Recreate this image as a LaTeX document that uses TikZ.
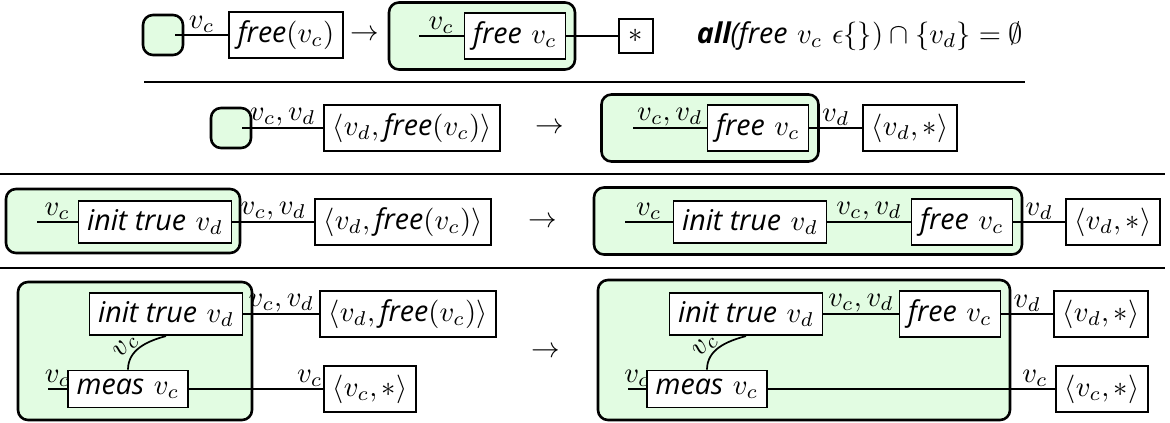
\documentclass[tikz,border=0pt]{standalone}
\usepackage{fontspec}
\newfontfamily\opensans{Open Sans}
\newcommand{\kw}[1]{\mbox{\opensans\itshape #1}}
\newcommand{\kwb}[1]{\mbox{\opensans\bfseries\itshape #1}}
\definecolor{grpgreen}{RGB}{226,252,226}
\newdimen\unitpx
\unitpx=0.35pt

\begin{document}
\begin{tikzpicture}[x=\unitpx, y=\unitpx,
  box/.style={rectangle, draw, semithick, fill=white, inner sep=3pt},
  grp/.style={rectangle, draw, line width=0.9pt, rounded corners=3.5pt, fill=grpgreen},
  wire/.style={semithick},
  lbl/.style={above, inner sep=0.5pt}]
  \useasboundingbox (0, 0) rectangle (1170, 423);

  \node (u1) [grp, minimum size=40\unitpx] at (163, 388) {};
  \coordinate (u1out) at (175, 388);
  \node (f1) [box] at (286, 388) {\kw{free}$(v_c)$};
  \node (a1) [] at (365, 388) {$\rightarrow$};
  \node (g1) [grp, minimum width=186\unitpx, minimum height=67\unitpx] at (482, 387) {};
  \coordinate (g1in) at (419, 387);
  \node (f1r) [box] at (515, 387) {\kw{free} $v_c$};
  \node (s1) [box, minimum size=34\unitpx] at (636, 387) {$*$};
  \node (c1) [] at (860, 387) {\kwb{all}\kw{(free} $v_c\ \epsilon\{\})\cap\{v_d\}=\emptyset$};
  \draw[wire] (u1out) -- node[lbl, midway] {$v_c$} (f1.west);
  \draw[wire] (g1in) -- node[lbl, midway] {$v_c$} (f1r.west);
  \draw[wire] (f1r.east) -- (s1.west);
  \draw[thin] (144, 341) -- (1025, 341);

  \node (u2) [grp, minimum size=40\unitpx] at (231, 295) {};
  \coordinate (u2out) at (242, 295);
  \node (p2) [box] at (412, 295) {$\langle v_d,\kw{free}(v_c)\rangle$};
  \node (a2) [] at (550, 295) {$\rightarrow$};
  \node (g2) [grp, minimum width=217\unitpx, minimum height=67\unitpx] at (710, 295) {};
  \coordinate (g2in) at (633, 295);
  \node (f2) [box] at (758, 295) {\kw{free} $v_c$};
  \node (p2r) [box] at (910, 295) {$\langle v_d,*\rangle$};
  \draw[wire] (u2out) -- node[lbl, midway] {$v_c,v_d$} (p2.west);
  \draw[wire] (g2in) -- node[lbl, midway] {$v_c,v_d$} (f2.west);
  \draw[wire] (f2.east) -- node[lbl, midway] {$v_d$} (p2r.west);
  \draw[thin] (0, 249) -- (1165, 249);

  \node (g3) [grp, minimum width=234\unitpx, minimum height=64\unitpx] at (123, 202) {};
  \coordinate (g3in) at (37, 201);
  \node (i3) [box] at (155, 201) {\kw{init true} $v_d$};
  \node (p3) [box] at (403, 201) {$\langle v_d,\kw{free}(v_c)\rangle$};
  \node (a3) [] at (543, 201) {$\rightarrow$};
  \node (g3r) [grp, minimum width=428\unitpx, minimum height=67\unitpx] at (808, 202) {};
  \coordinate (g3rin) at (625, 201);
  \node (i3r) [box] at (750, 201) {\kw{init true} $v_d$};
  \node (f3r) [box] at (962, 201) {\kw{free} $v_c$};
  \node (p3r) [box] at (1113, 201) {$\langle v_d,*\rangle$};
  \draw[wire] (g3in) -- node[lbl, midway] {$v_c$} (i3.west);
  \draw[wire] (i3.east) -- node[lbl, midway] {$v_c,v_d$} (p3.west);
  \draw[wire] (g3rin) -- node[lbl, midway] {$v_c$} (i3r.west);
  \draw[wire] (i3r.east) -- node[lbl, midway] {$v_c,v_d$} (f3r.west);
  \draw[wire] (f3r.east) -- node[lbl, midway] {$v_d$} (p3r.west);
  \draw[thin] (0, 155) -- (1165, 155);

  \node (g4) [grp, minimum width=234\unitpx, minimum height=138\unitpx] at (135, 72) {};
  \node (i4) [box] at (166, 109) {\kw{init true} $v_d$};
  \node (m4) [box] at (128, 34) {\kw{meas} $v_c$};
  \coordinate (m4in) at (48, 34);
  \node (p4) [box] at (408, 109) {$\langle v_d,\kw{free}(v_c)\rangle$};
  \node (q4) [box] at (370, 34) {$\langle v_c,*\rangle$};
  \node (a4) [] at (546, 71) {$\rightarrow$};
  \draw[wire] (m4in) -- node[lbl, midway] {$v_c$} (m4.west);
  \draw[wire] (m4.north) to[out=90, in=195] node[lbl, sloped, pos=0.35] {$v_c$} (i4.south);
  \draw[wire] (i4.east) -- node[lbl, midway] {$v_c,v_d$} (p4.west);
  \draw[wire] (m4.east) -- node[lbl, pos=0.9] {$v_c$} (q4.west);

  \node (g4r) [grp, minimum width=412\unitpx, minimum height=140\unitpx] at (804, 73) {};
  \node (i4r) [box] at (746, 109) {\kw{init true} $v_d$};
  \node (f4r) [box] at (950, 109) {\kw{free} $v_c$};
  \node (p4r) [box] at (1101, 109) {$\langle v_d,*\rangle$};
  \node (m4r) [box] at (707, 34) {\kw{meas} $v_c$};
  \coordinate (m4rin) at (628, 34);
  \node (q4r) [box] at (1102, 34) {$\langle v_c,*\rangle$};
  \draw[wire] (m4rin) -- node[lbl, midway] {$v_c$} (m4r.west);
  \draw[wire] (m4r.north) to[out=90, in=195] node[lbl, sloped, pos=0.35] {$v_c$} (i4r.south);
  \draw[wire] (i4r.east) -- node[lbl, midway] {$v_c,v_d$} (f4r.west);
  \draw[wire] (f4r.east) -- node[lbl, midway] {$v_d$} (p4r.west);
  \draw[wire] (m4r.east) -- node[lbl, pos=0.93] {$v_c$} (q4r.west);
\end{tikzpicture}
\end{document}
